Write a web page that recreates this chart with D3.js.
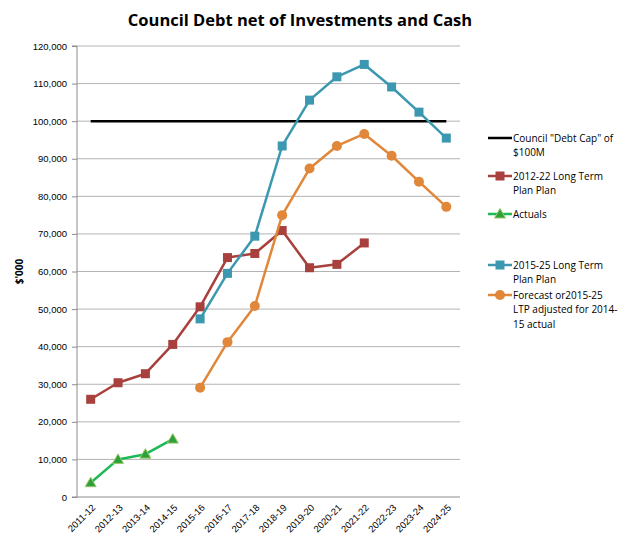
<!DOCTYPE html>
<html>
<head>
<meta charset="utf-8">
<script src="https://cdn.jsdelivr.net/npm/d3@7/dist/d3.min.js"></script>
<style>
  body { margin: 0; background: #fff; }
  svg { display: block; font-family: "Open Sans", "Liberation Sans", sans-serif; }
</style>
</head>
<body>
<svg id="chart" width="627" height="538"></svg>
<script>
// Financial years on the x axis
const years = ["2011-12","2012-13","2013-14","2014-15","2015-16","2016-17","2017-18",
               "2018-19","2019-20","2020-21","2021-22","2022-23","2023-24","2024-25"];

// Values in $'000 (null = no value for that year)
const debtCap = [100000,100000,100000,100000,100000,100000,100000,
                 100000,100000,100000,100000,100000,100000,100000];
const ltp2012 = [26000,30400,32800,40600,50600,63700,64800,70900,61000,61900,67600,null,null,null];
const actuals = [3800,10000,11400,15400,null,null,null,null,null,null,null,null,null,null];
const ltp2015 = [null,null,null,null,47400,59500,69400,93400,105600,111800,115100,109100,102400,95500];
const forecast = [null,null,null,null,29100,41200,50800,75000,87400,93400,96600,90800,83900,77200];

const yTicks = [0,10000,20000,30000,40000,50000,60000,70000,80000,90000,100000,110000,120000];

const series = [
  { name: ["Council \"Debt Cap\" of", "$100M"], values: debtCap, color: "#000000", width: 2.5, marker: null },
  { name: ["2012-22 Long Term", "Plan Plan"], values: ltp2012, color: "#A8403D", width: 2.5, marker: "square" },
  { name: ["Actuals"], values: actuals, color: "#1DB954", width: 2.5, marker: "triangle", fill: "#2FA03A", stroke: "#9BC86A" },
  { name: ["2015-25 Long Term", "Plan Plan"], values: ltp2015, color: "#3C98B0", width: 2.5, marker: "square" },
  { name: ["Forecast or2015-25", "LTP adjusted for 2014-", "15 actual"], values: forecast, color: "#E0873A", width: 2.5, marker: "circle" }
];

const svg = d3.select("#chart");
const margin = { left: 77, right: 167, top: 46, bottom: 41 };
const W = 627, H = 538;

const x = d3.scaleBand().domain(years).range([margin.left, 460]);
const y = d3.scaleLinear().domain([0, 120000]).range([H - margin.bottom, margin.top]);

// Title
svg.append("text")
  .attr("x", 300).attr("y", 26)
  .attr("text-anchor", "middle")
  .attr("font-size", 16.5).attr("font-weight", "bold")
  .attr("fill", "#000")
  .text("Council Debt net of Investments and Cash");

// Horizontal gridlines
svg.append("g")
  .selectAll("line")
  .data(yTicks.filter(d => d > 0))
  .join("line")
  .attr("x1", margin.left).attr("x2", 460)
  .attr("y1", d => y(d)).attr("y2", d => y(d))
  .attr("stroke", "#b3b3b3").attr("stroke-width", 1);

// Y axis
const yAxis = svg.append("g")
  .attr("transform", `translate(${margin.left},0)`)
  .call(d3.axisLeft(y).tickValues(yTicks).tickSize(5).tickPadding(5)
    .tickFormat(d => d3.format(",")(d)));
yAxis.select(".domain").attr("stroke", "#8c8c8c").attr("d", `M-5,${y(0)}H0V${y(120000)}H-5`);
yAxis.selectAll(".tick line").attr("stroke", "#8c8c8c");
yAxis.selectAll(".tick text").attr("font-size", 9.5).attr("fill", "#000");

// X axis
const xAxis = svg.append("g")
  .attr("transform", `translate(0,${y(0)})`)
  .call(d3.axisBottom(x).tickSize(0).tickPadding(0));
xAxis.select(".domain").attr("stroke", "#8c8c8c").attr("d", `M${margin.left},0H460`);
xAxis.selectAll(".tick text")
  .attr("font-size", 9.5).attr("fill", "#000")
  .attr("text-anchor", "end")
  .attr("dy", "0.35em")
  .attr("transform", "translate(3,9) rotate(-45)");

// Y axis title
svg.append("text")
  .attr("transform", `translate(23,${y(60000)}) rotate(-90)`)
  .attr("text-anchor", "middle")
  .attr("font-size", 10).attr("font-weight", "bold")
  .text("$'000");

const cx = d => x(d) + x.bandwidth() / 2;

function drawMarker(g, s, px, py) {
  if (s.marker === "square") {
    g.append("rect").attr("x", px - 4.5).attr("y", py - 4.5).attr("width", 9).attr("height", 9)
      .attr("fill", s.color);
  } else if (s.marker === "circle") {
    g.append("circle").attr("cx", px).attr("cy", py).attr("r", 5).attr("fill", s.color);
  } else if (s.marker === "triangle") {
    g.append("path")
      .attr("d", `M${px},${py - 5.5}L${px + 5.5},${py + 4}L${px - 5.5},${py + 4}Z`)
      .attr("fill", s.fill).attr("stroke", s.stroke).attr("stroke-width", 1);
  }
}

// Series lines and markers
series.forEach((s, i) => {
  const pts = years.map((yr, j) => ({ yr, v: s.values[j] })).filter(p => p.v != null);
  const g = svg.append("g");
  const line = d3.line().x(p => cx(p.yr)).y(p => y(p.v));
  g.append("path").datum(pts)
    .attr("d", line)
    .attr("fill", "none")
    .attr("stroke", s.color)
    .attr("stroke-width", s.width)
    .attr("stroke-linejoin", "round");
  if (s.marker) pts.forEach(p => drawMarker(g, s, cx(p.yr), y(p.v)));
});

// Legend
const legendY = [138, 176, 214, 265, 295];
series.forEach((s, i) => {
  const g = svg.append("g").attr("transform", `translate(488,${legendY[i]})`);
  g.append("line").attr("x1", 0).attr("x2", 24).attr("y1", 0).attr("y2", 0)
    .attr("stroke", s.color).attr("stroke-width", s.width);
  if (s.marker) drawMarker(g, s, 12, 0);
  s.name.forEach((t, k) => {
    g.append("text").attr("x", 25).attr("y", k * 14.5)
      .attr("dy", "0.35em")
      .attr("font-size", 10).attr("fill", "#000")
      .text(t);
  });
});
</script>
</body>
</html>
